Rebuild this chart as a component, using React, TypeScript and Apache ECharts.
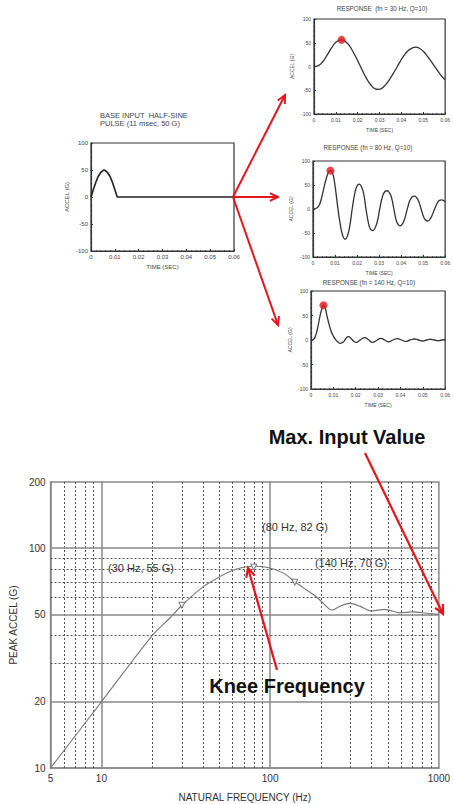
import React, { useEffect, useRef } from "react";
import * as echarts from "echarts";

// ---------- data ----------
const pulseTime = [0, 0.001, 0.002, 0.003, 0.004, 0.005, 0.0055, 0.006, 0.007, 0.008, 0.009, 0.010, 0.011, 0.06];
const pulseAccel = [0, 14, 27, 38, 45, 49, 50, 49, 45, 38, 27, 14, 0, 0];

const resp30Time = [0, 0.002, 0.004, 0.006, 0.008, 0.010, 0.0126, 0.014, 0.016, 0.018, 0.020, 0.022, 0.024, 0.026, 0.028, 0.0293, 0.031, 0.033, 0.035, 0.037, 0.039, 0.041, 0.043, 0.045, 0.0465, 0.048, 0.050, 0.052, 0.054, 0.056, 0.058, 0.060];
const resp30Accel = [0, 2, 10, 24, 39, 51, 56, 54, 45, 30, 12, -7, -25, -39, -47, -48, -46, -37, -24, -9, 7, 22, 33, 39, 41, 39, 32, 21, 8, -5, -18, -28];

const resp80Time = [0, 0.001, 0.002, 0.003, 0.004, 0.005, 0.006, 0.007, 0.0079, 0.0088, 0.0098, 0.0112, 0.0125, 0.0136, 0.0146, 0.0156, 0.0167, 0.0178, 0.019, 0.020, 0.021, 0.022, 0.023, 0.024, 0.0252, 0.0261, 0.027, 0.028, 0.0292, 0.0303, 0.0316, 0.0326, 0.0337, 0.0347, 0.0357, 0.0366, 0.0377, 0.0386, 0.0395, 0.0406, 0.0417, 0.0428, 0.044, 0.045, 0.046, 0.047, 0.048, 0.049, 0.0502, 0.0511, 0.052, 0.053, 0.054, 0.0552, 0.0565, 0.0574, 0.0583, 0.0592, 0.060];
const resp80Accel = [0, 0.5, 3, 10, 25, 45, 63, 76, 80, 76, 55, 5, -35, -57, -63, -57, -35, 0, 33, 48, 52, 47, 32, 2, -30, -42, -45, -41, -26, 0, 27, 36, 38, 34, 23, 3, -22, -32, -35, -31, -19, 0, 18, 25, 27, 24, 16, 1, -16, -23, -25, -22, -14, 0, 13, 18, 19, 18, 15];

const resp140Time = [0, 0.001, 0.002, 0.003, 0.004, 0.005, 0.0056, 0.0063, 0.0072, 0.0082, 0.009, 0.010, 0.011, 0.012, 0.0131, 0.0145, 0.0156, 0.0167, 0.0179, 0.019, 0.0202, 0.0214, 0.0226, 0.024, 0.0256, 0.0275, 0.0293, 0.0312, 0.033, 0.0347, 0.0366, 0.0386, 0.0405, 0.0424, 0.0443, 0.0463, 0.048, 0.0499, 0.0517, 0.0534, 0.0552, 0.057, 0.0585, 0.060];
const resp140Accel = [0, 1, 8, 25, 48, 66, 71, 66, 48, 30, 18, 8, 1, -4, -7, -4, 3, 7, 3, -2, -5, -2, 2, 5, 1, -5, -1, 3.5, 0, -4, 0, 3, 0, -3, 0, 2, 0, -2, 0, 1.5, 0, -1.5, 0, 0.5];

const peakTimes = [0.0126, 0.0079, 0.0056];
const peakAccels = [56, 80, 71];

const srsFreq = [5, 10, 20, 25.4, 30, 40, 50, 62, 80, 97, 120, 140, 167, 182, 200, 233, 260, 298, 340, 399, 477, 584, 699, 850, 1000];
const srsAccel = [10, 20, 40, 48, 55, 66.7, 74, 80, 82.8, 81.6, 77, 70.3, 64, 61.2, 57.5, 52.3, 54.5, 56.1, 54.5, 51.8, 52.7, 50.8, 51.3, 50.6, 50];

const markFreq = [30, 80, 140];
const markAccel = [55, 82, 70];
const markLabels = ["(30 Hz, 55 G)", "(80 Hz, 82 G)", "(140 Hz, 70 G)"];

const majorFreqLines = [10, 100];
const minorFreqLines = [6, 7, 8, 9, 20, 30, 40, 50, 60, 70, 80, 90, 200, 300, 400, 500, 600, 700, 800, 900];
const majorAccelLines = [20, 50, 100];
const minorAccelLines = [30, 40, 60, 70, 80, 90];

const freqTickLabels = [5, 10, 100, 1000];
const accelTickLabels = [10, 20, 50, 100, 200];

const timeTitles = ["BASE INPUT  HALF-SINE", "PULSE (11 msec, 50 G)"];
const respTitles = ["RESPONSE  (fn = 30 Hz, Q=10)", "RESPONSE (fn = 80 Hz, Q=10)", "RESPONSE (fn = 140 Hz, Q=10)"];

// ---------- helpers ----------
const FONT = "'Liberation Sans', Arial, sans-serif";
const RED = "#e5151b";

function pairs(xs: number[], ys: number[]) {
  return xs.map((x, i) => [x, ys[i]]);
}

function arrowEls(x1: number, y1: number, x2: number, y2: number, head: number, lw: number) {
  const a = Math.atan2(y2 - y1, x2 - x1);
  const s = Math.PI / 7;
  const p1 = [x2 - head * Math.cos(a - s), y2 - head * Math.sin(a - s)];
  const p2 = [x2 - head * Math.cos(a + s), y2 - head * Math.sin(a + s)];
  return [
    { type: "line", z: 100, shape: { x1, y1, x2, y2 }, style: { stroke: RED, lineWidth: lw } },
    { type: "polyline", z: 100, shape: { points: [p1, [x2, y2], p2] }, style: { stroke: RED, lineWidth: lw, fill: null } },
  ];
}

function smallX(gridIndex: number, fs: number) {
  return {
    type: "value",
    gridIndex,
    min: 0,
    max: 0.06,
    interval: 0.01,
    name: "TIME (SEC)",
    nameLocation: "middle",
    nameGap: 13,
    nameTextStyle: { fontSize: fs, color: "#444", fontFamily: FONT },
    axisLine: { show: true, onZero: false, lineStyle: { color: "#333", width: 1.2 } },
    axisTick: { show: true, inside: true, length: 2, lineStyle: { color: "#333" } },
    minorTick: { show: true, splitNumber: 5, length: 1, lineStyle: { color: "#555" } },
    splitLine: { show: false },
    axisLabel: {
      fontSize: fs,
      color: "#444",
      fontFamily: FONT,
      margin: 3,
      formatter: (v: number) => (v === 0 ? "0" : v.toFixed(2)),
    },
  };
}

function smallY(gridIndex: number, fs: number, gap: number) {
  return {
    type: "value",
    gridIndex,
    min: -100,
    max: 100,
    interval: 50,
    name: "ACCEL (G)",
    nameLocation: "middle",
    nameRotate: 90,
    nameGap: gap,
    nameTextStyle: { fontSize: fs, color: "#444", fontFamily: FONT },
    axisLine: { show: true, onZero: false, lineStyle: { color: "#333", width: 1.2 } },
    axisTick: { show: true, inside: true, length: 2, lineStyle: { color: "#333" } },
    minorTick: { show: true, splitNumber: 5, length: 1, lineStyle: { color: "#555" } },
    splitLine: { show: false },
    axisLabel: { fontSize: fs, color: "#444", fontFamily: FONT, margin: 3 },
  };
}

const smallGridStyle = { show: true, borderColor: "#333", borderWidth: 1.2, containLabel: false };

function buildOption() {
  const gridLines = [
    ...minorFreqLines.map((v) => ({ xAxis: v, lineStyle: { type: [2, 2], color: "#555", width: 1 } })),
    ...majorFreqLines.map((v) => ({ xAxis: v, lineStyle: { type: "solid", color: "#888", width: 1.5 } })),
    ...minorAccelLines.map((v) => ({ yAxis: v, lineStyle: { type: [2, 2], color: "#555", width: 1 } })),
    ...majorAccelLines.map((v) => ({ yAxis: v, lineStyle: { type: "solid", color: "#888", width: 1.5 } })),
  ];

  const annPos = [
    [141, 568],
    [295, 527],
    [351, 563],
  ];

  return {
    animation: false,
    backgroundColor: "#ffffff",
    grid: [
      { left: 91, top: 143, width: 143, height: 108, ...smallGridStyle },
      { left: 314, top: 19, width: 139, height: 95, ...smallGridStyle },
      { left: 313, top: 161, width: 140, height: 96, ...smallGridStyle },
      { left: 311, top: 291, width: 142, height: 98, ...smallGridStyle },
      { left: 50, top: 482, width: 393, height: 286, show: true, borderColor: "#888", borderWidth: 1.5 },
    ],
    xAxis: [
      smallX(0, 6),
      smallX(1, 5),
      smallX(2, 5),
      smallX(3, 5),
      {
        type: "log",
        logBase: 10,
        gridIndex: 4,
        min: 5,
        max: 1000,
        name: "NATURAL FREQUENCY (Hz)",
        nameLocation: "middle",
        nameGap: 24,
        nameTextStyle: { fontSize: 10, color: "#333", fontFamily: FONT },
        axisLine: { show: true, lineStyle: { color: "#888", width: 1.5 } },
        axisTick: { show: false },
        splitLine: { show: false },
        axisLabel: {
          fontSize: 10,
          color: "#333",
          fontFamily: FONT,
          margin: 5,
          customValues: freqTickLabels,
          formatter: (v: number) => String(Math.round(v)),
        },
      },
    ],
    yAxis: [
      smallY(0, 6, 21),
      smallY(1, 5, 20),
      smallY(2, 5, 20),
      smallY(3, 5, 19),
      {
        type: "log",
        logBase: 10,
        gridIndex: 4,
        min: 10,
        max: 200,
        name: "PEAK ACCEL (G)",
        nameLocation: "middle",
        nameRotate: 90,
        nameGap: 31,
        nameTextStyle: { fontSize: 10, color: "#333", fontFamily: FONT },
        axisLine: { show: true, lineStyle: { color: "#888", width: 1.5 } },
        axisTick: { show: false },
        splitLine: { show: false },
        axisLabel: {
          fontSize: 10,
          color: "#333",
          fontFamily: FONT,
          margin: 5,
          customValues: accelTickLabels,
          formatter: (v: number) => String(Math.round(v)),
        },
      },
    ],
    series: [
      {
        type: "line",
        xAxisIndex: 0,
        yAxisIndex: 0,
        data: pairs(pulseTime, pulseAccel),
        showSymbol: false,
        smooth: false,
        lineStyle: { color: "#222", width: 1.6 },
      },
      {
        type: "line",
        xAxisIndex: 1,
        yAxisIndex: 1,
        data: pairs(resp30Time, resp30Accel),
        showSymbol: false,
        smooth: 0.5,
        lineStyle: { color: "#333", width: 1.3 },
      },
      {
        type: "line",
        xAxisIndex: 2,
        yAxisIndex: 2,
        data: pairs(resp80Time, resp80Accel),
        showSymbol: false,
        smooth: 0.5,
        lineStyle: { color: "#333", width: 1.3 },
      },
      {
        type: "line",
        xAxisIndex: 3,
        yAxisIndex: 3,
        data: pairs(resp140Time, resp140Accel),
        showSymbol: false,
        smooth: 0.5,
        lineStyle: { color: "#333", width: 1.3 },
      },
      ...[1, 2, 3].map((g, i) => ({
        type: "scatter",
        xAxisIndex: g,
        yAxisIndex: g,
        data: [[peakTimes[i], peakAccels[i]]],
        symbolSize: 8,
        itemStyle: { color: RED },
        z: 10,
      })),
      {
        type: "line",
        xAxisIndex: 4,
        yAxisIndex: 4,
        data: pairs(srsFreq, srsAccel),
        showSymbol: false,
        smooth: 0.3,
        lineStyle: { color: "#777", width: 1.1 },
        z: 5,
        markLine: {
          silent: true,
          symbol: ["none", "none"],
          label: { show: false },
          z: 1,
          data: gridLines,
        },
      },
      {
        type: "scatter",
        xAxisIndex: 4,
        yAxisIndex: 4,
        data: pairs(markFreq, markAccel),
        symbol: "triangle",
        symbolRotate: 180,
        symbolSize: 6,
        itemStyle: { color: "#ffffff", borderColor: "#555", borderWidth: 1 },
        z: 6,
      },
    ],
    graphic: [
      { type: "text", x: 100, y: 115, style: { text: timeTitles[0], font: `7.5px ${FONT}`, fill: "#444", textVerticalAlign: "middle" } },
      { type: "text", x: 100, y: 123, style: { text: timeTitles[1], font: `7.5px ${FONT}`, fill: "#444", textVerticalAlign: "middle" } },
      { type: "text", x: 382, y: 8, style: { text: respTitles[0], font: `6.3px ${FONT}`, fill: "#444", textAlign: "center", textVerticalAlign: "middle" } },
      { type: "text", x: 368, y: 147, style: { text: respTitles[1], font: `6.3px ${FONT}`, fill: "#444", textAlign: "center", textVerticalAlign: "middle" } },
      { type: "text", x: 369, y: 282, style: { text: respTitles[2], font: `6.3px ${FONT}`, fill: "#444", textAlign: "center", textVerticalAlign: "middle" } },
      ...markLabels.map((t, i) => ({
        type: "text",
        x: annPos[i][0],
        y: annPos[i][1],
        z: 50,
        style: { text: t, font: `11px ${FONT}`, fill: "#333", textAlign: "center", textVerticalAlign: "middle" },
      })),
      { type: "text", x: 347, y: 437, z: 100, style: { text: "Max. Input Value", font: `bold 20px ${FONT}`, fill: "#111", textAlign: "center", textVerticalAlign: "middle" } },
      { type: "text", x: 287, y: 686, z: 100, style: { text: "Knee Frequency", font: `bold 20px ${FONT}`, fill: "#111", textAlign: "center", textVerticalAlign: "middle" } },
      ...arrowEls(233, 197, 285, 95, 9, 2),
      ...arrowEls(233, 197, 278, 197, 9, 2),
      ...arrowEls(233, 197, 278, 325, 9, 2),
      ...arrowEls(277, 670, 248, 568, 10, 2.2),
      ...arrowEls(365, 453, 443, 614, 10, 2.2),
    ],
  };
}

export default function App() {
  const ref = useRef<HTMLDivElement>(null);
  useEffect(() => {
    if (!ref.current) return;
    const chart = echarts.init(ref.current, undefined, { renderer: "svg" });
    chart.setOption(buildOption() as any);
    return () => chart.dispose();
  }, []);
  return (
    <div
      ref={ref}
      style={{ position: "absolute", left: 0, top: 0, width: 453, height: 804, background: "#fff" }}
    />
  );
}
